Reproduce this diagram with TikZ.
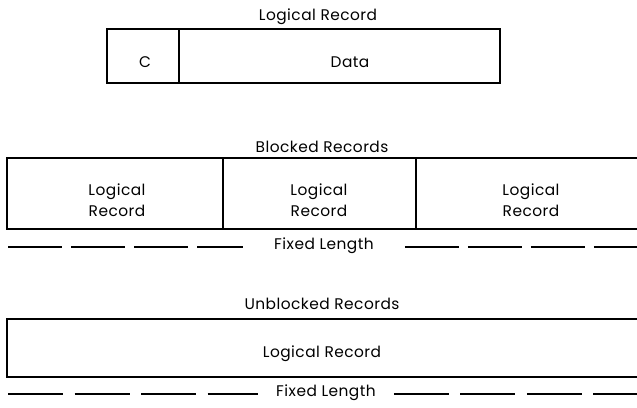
\documentclass[tikz,border=0pt]{standalone}
\usepackage{fontspec}
\setmainfont[LetterSpace=3]{Poppins}
\begin{document}
\begin{tikzpicture}[x=1pt, y=-1pt, font=\fontsize{15.4}{21}\selectfont,
	rec/.style={draw=black, line width=1.3pt, inner sep=0pt},
	len/.style={line width=1.1pt, dash pattern=on 54pt off 9pt},
	lab/.style={inner xsep=31pt}]
	\useasboundingbox (0,0) rectangle (637,407);

	% logical record
	\node (t1) at (318, 17) {Logical Record};
	\node[rec, minimum width=72, minimum height=54] (c) at (143, 56) {};
	\node[rec, minimum width=321, minimum height=54] (data) at (339.5, 56) {};
	\node (ct) at (145, 62) {C};
	\node (datat) at (350, 62) {Data};

	% blocked records
	\node (t2) at (322, 147) {Blocked Records};
	\foreach \i/\x/\w/\tx in {1/115/216/117, 2/319.5/193/319, 3/528/224/531}
	{
		\node[rec, minimum width=\w, minimum height=71] (b\i) at (\x, 193.5) {};
		\node[align=center] (bt\i) at (\tx, 200) {Logical\\Record};
	}
	\node[lab] (f1) at (324, 246) {Fixed Length};
	\coordinate (f1l) at (8, 247);
	\coordinate (f1r) at (640, 247);
	\draw[len] (f1l) -- (f1l -| f1.west);
	\draw[len] (f1r -| f1.east) -- (f1r);

	% unblocked records
	\node (t3) at (322, 304) {Unblocked Records};
	\node[rec, minimum width=633, minimum height=58] (u) at (323.5, 348) {};
	\node (ut) at (322, 354) {Logical Record};
	\node[lab, inner xsep=18pt] (f2) at (326, 393) {Fixed Length};
	\coordinate (f2l) at (8, 394);
	\coordinate (f2r) at (640, 394);
	\draw[len, dash pattern=on 55pt off 11.5pt] (f2l) -- (f2l -| f2.west);
	\draw[len, dash pattern=on 55pt off 11.5pt] (f2r -| f2.east) -- (f2r);
\end{tikzpicture}
\end{document}
